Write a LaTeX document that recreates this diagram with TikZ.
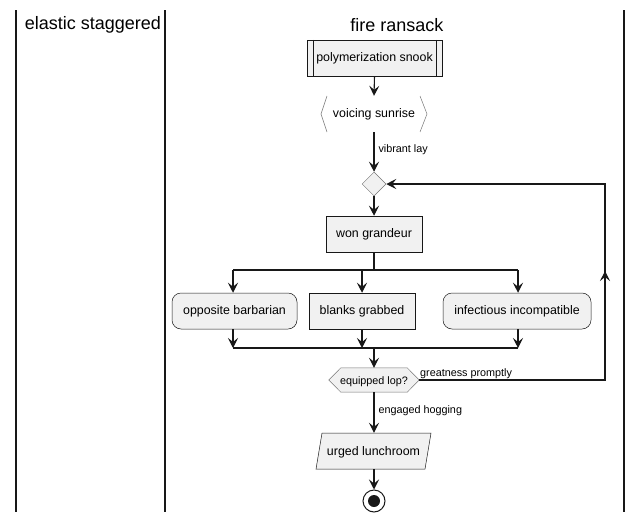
\documentclass[tikz,border=0pt]{standalone}
\usepackage{fontspec}
\setmainfont{Liberation Sans}
\usetikzlibrary{arrows.meta,shapes.geometric,calc}
\definecolor{fillc}{HTML}{F1F1F1}
\definecolor{linec}{HTML}{181818}
\begin{document}
\begin{tikzpicture}[x=1pt,y=-1pt,
  lane/.style={line width=1.3pt,draw=linec},
  title/.style={font=\fontsize{18}{21}\selectfont,anchor=center,inner sep=0},
  act/.style={draw=linec,line width=0.5pt,fill=fillc,font=\fontsize{12.4}{14}\selectfont,inner sep=0,anchor=center},
  txt/.style={font=\fontsize{12.4}{14}\selectfont,inner sep=0},
  lbl/.style={font=\fontsize{10.8}{12}\selectfont,inner sep=0,anchor=west},
  conn/.style={draw=linec,line width=1.1pt,-{Stealth[length=10pt,width=10pt,inset=4pt]}},
  plain/.style={draw=linec,line width=1.1pt},
  bar/.style={draw=linec,line width=1.6pt}]
\useasboundingbox (0,0) rectangle (642,522);
% lanes
\draw[lane] (16,10) -- (16,512);
\draw[lane] (165,10) -- (165,512);
\draw[lane] (624,10) -- (624,512);
\node[title] (t1) at (93,25) {elastic staggered};
\node[title] (t2) at (397,25) {fire ransack};
% polymerization snook
\node[act,minimum width=135,minimum height=36,text depth=2pt] (a1) at (374.5,58) {polymerization snook};
\draw[linec,line width=0.5pt] ($(a1.north west)+(6,0)$) -- ($(a1.south west)+(6,0)$);
\draw[linec,line width=0.5pt] ($(a1.north east)+(-6,0)$) -- ($(a1.south east)+(-6,0)$);
% voicing sunrise
\node[txt,minimum width=106,minimum height=36,text depth=2pt] (a2) at (374,114) {voicing sunrise};
\draw[linec,line width=0.5pt,draw opacity=0.6] (327,96) -- (321,114) -- (327,132);
\draw[linec,line width=0.5pt,draw opacity=0.6] (420,96) -- (427,114) -- (420,132);
\draw[conn] (a1.south) -- (a2.north);
% diamond
\node[draw=linec!60,line width=0.5pt,fill=fillc,diamond,minimum width=24,minimum height=24,inner sep=0] (d1) at (374,184) {};
\draw[conn] (a2.south) -- node[lbl,pos=0.43,xshift=4pt] {vibrant lay} (d1.north);
% won grandeur
\node[act,minimum width=96,minimum height=36,text depth=2pt] (a3) at (374,234) {won grandeur};
\draw[conn] (d1.south) -- (a3.north);
% fork
\coordinate (f1) at (374,270);
\coordinate (fl) at (233,270);
\coordinate (fm) at (362,270);
\coordinate (fr) at (518,270);
\draw[plain] (a3.south) -- (f1);
\draw[bar] (fl) -- (fr);
\node[act,rounded corners=9pt,minimum width=125,minimum height=36,text depth=2pt] (b1) at (234.5,311) {opposite barbarian};
\node[act,minimum width=106,minimum height=36,text depth=2pt] (b2) at (362,311) {blanks grabbed};
\node[act,rounded corners=9pt,minimum width=148,minimum height=36,text depth=2pt] (b3) at (517,311) {infectious incompatible};
\draw[conn] (fl) -- (fl|-b1.north);
\draw[conn] (fm) -- (b2.north);
\draw[conn] (fr) -- (fr|-b3.north);
% join
\coordinate (jl) at (233,348);
\coordinate (jm) at (362,348);
\coordinate (jr) at (518,348);
\coordinate (j1) at (374,348);
\draw[conn] (fl|-b1.south) -- (jl);
\draw[conn] (b2.south) -- (jm);
\draw[conn] (fr|-b3.south) -- (jr);
\draw[bar] (jl) -- (jr);
% equipped lop?
\node[inner sep=0,minimum width=90,minimum height=24] (h1) at (374,380) {};
\draw[draw=linec!60,line width=0.5pt,fill=fillc] (h1.west) -- ($(h1.north west)+(12,0)$) -- ($(h1.north east)+(-12,0)$) -- (h1.east) -- ($(h1.south east)+(-12,0)$) -- ($(h1.south west)+(12,0)$) -- cycle;
\node[font=\fontsize{10.8}{12}\selectfont,inner sep=0,text depth=2pt] (h1t) at (374,381.5) {equipped lop?};
\draw[conn] (j1) -- (h1.north);
% loop back
\coordinate (r1) at (605,380);
\coordinate (r2) at (605,184);
\coordinate (ra) at (605,290);
\coordinate (rb) at (605,271);
\draw[plain] (h1.east) -- (r1) -- (r2) -- ($(d1.east)+(2,0)$);
\draw[conn] ($(d1.east)+(14,0)$) -- (d1.east);
\draw[conn] (ra) -- (rb);
\node[lbl,anchor=south west] (gl) at (420,379) {greatness promptly};
% urged lunchroom
\node[inner sep=0,minimum width=100,minimum height=36] (p1) at (374,451) {};
\draw[draw=linec,line width=0.5pt,fill=fillc] (322,433) -- (431,433) -- (425,469) -- (316,469) -- cycle;
\node[txt,text depth=2pt] (p1t) at (373.5,452) {urged lunchroom};
\draw[conn] (h1.south) -- node[lbl,pos=0.45,xshift=4pt] {engaged hogging} (p1.north);
% end
\node[circle,draw=linec,line width=1pt,minimum size=22,inner sep=0] (e1) at (374,501) {};
\node[circle,fill=linec,minimum size=12,inner sep=0] (e2) at (374,501) {};
\draw[conn] (p1.south) -- (e1.north);
\end{tikzpicture}
\end{document}
